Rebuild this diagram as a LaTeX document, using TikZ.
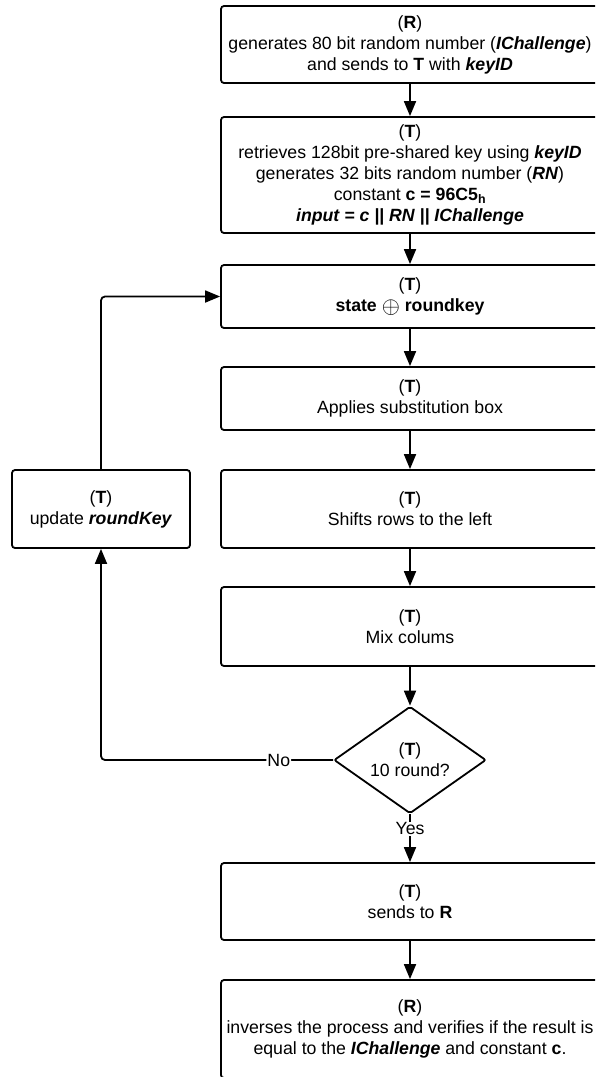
\documentclass[tikz,border=0pt]{standalone}
\usepackage{fontspec}
\setmainfont{Liberation Sans}
\usetikzlibrary{arrows.meta,shapes.geometric}
\newcommand{\bi}[1]{\textbf{\textit{#1}}}
\newcommand{\xorsym}{\raisebox{-0.12em}{\scalebox{1.35}{$\oplus$}}}
\tikzset{
  txt/.style={font=\fontsize{17.7}{21}\selectfont},
  stepbox/.style={draw, line width=1.8pt, rounded corners=3pt, align=center,
    minimum width=378pt, inner sep=0pt, txt},
  sidebox/.style={stepbox, minimum width=178pt},
  decide/.style={draw, diamond, line width=1.8pt, rounded corners=2pt, align=center,
    minimum width=152pt, minimum height=107pt, inner sep=0pt, aspect=1.42, txt},
  flow/.style={line width=1.8pt, -{Triangle[length=15pt,width=12pt]}},
  lbl/.style={fill=white, inner sep=1pt, txt}
}
\begin{document}
\begin{tikzpicture}[x=1pt,y=-1pt]
\useasboundingbox (0,0) rectangle (595,1077);
\clip (0,0) rectangle (595,1077);

\node[stepbox, minimum height=77pt] (b1) at (410,44.5)
  {(\textbf{R})\\generates 80 bit random number (\bi{IChallenge})\\and sends to \textbf{T} with \bi{keyID}};
\node[stepbox, minimum height=116pt] (b2) at (410,175)
  {(\textbf{T})\\retrieves 128bit pre-shared key using \bi{keyID}\\generates 32 bits random number (\bi{RN})\\constant \textbf{c = 96C5\textsubscript{h}}\\\bi{input = c || RN || IChallenge}};
\node[stepbox, minimum height=63pt] (b3) at (410,296.5)
  {(\textbf{T})\\\textbf{state} \xorsym{} \textbf{roundkey}};
\node[stepbox, minimum height=63pt] (b4) at (410,398.5)
  {(\textbf{T})\\Applies substitution box};
\node[stepbox, minimum height=78pt] (b5) at (410,509)
  {(\textbf{T})\\Shifts rows to the left};
\node[sidebox, minimum height=78pt] (upd) at (101,509)
  {(\textbf{T})\\update \bi{roundKey}};
\node[stepbox, minimum height=79pt] (b6) at (410,626.5)
  {(\textbf{T})\\Mix colums};
\node[decide] (dec) at (410,760)
  {(\textbf{T})\\10 round?};
\node[stepbox, minimum height=77pt] (b7) at (410,901.5)
  {(\textbf{T})\\sends to \textbf{R}};
\node[stepbox, minimum height=98pt] (b8) at (410,1029)
  {(\textbf{R})\\inverses the process and verifies if the result is\\equal to the \bi{IChallenge} and constant \textbf{c}.};

\draw[flow] (b1) -- (b2);
\draw[flow] (b2) -- (b3);
\draw[flow] (b3) -- (b4);
\draw[flow] (b4) -- (b5);
\draw[flow] (b5) -- (b6);
\draw[flow] (b6) -- (dec);
\draw[flow] (dec) -- node[lbl, pos=0.3] {Yes} (b7);
\draw[flow] (b7) -- (b8);
\draw[flow, rounded corners=4pt] (dec.west) -- node[lbl, pos=0.234] {No} (upd.south |- dec.west) -- (upd.south);
\draw[flow, rounded corners=4pt] (upd.north) |- (b3.west);
\end{tikzpicture}
\end{document}
